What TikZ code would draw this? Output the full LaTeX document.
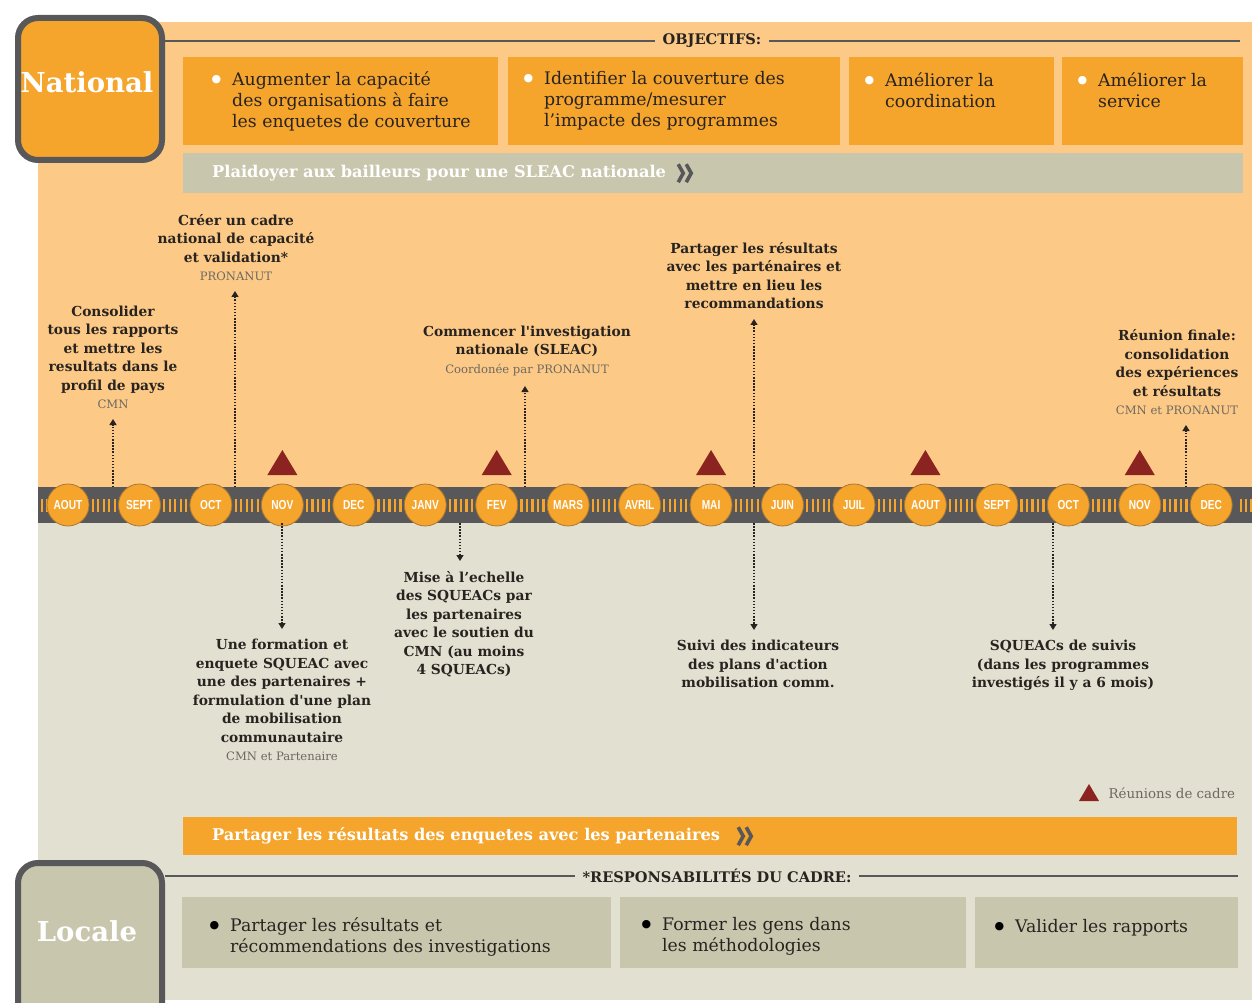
\documentclass[tikz,border=0pt]{standalone}
\usepackage{fontspec}
\setmainfont{DejaVu Serif}
\newfontfamily\monthfont[FakeStretch=0.78]{Liberation Sans}
\newfontfamily\dotfont{DejaVu Sans}
\usetikzlibrary{arrows.meta,positioning}
\definecolor{paleorange}{RGB}{252,202,134}
\definecolor{deeporange}{RGB}{245,164,44}
\definecolor{bargray}{RGB}{88,88,90}
\definecolor{palebeige}{RGB}{226,224,208}
\definecolor{khaki}{RGB}{201,198,174}
\definecolor{meetred}{RGB}{139,36,32}
\definecolor{ink}{RGB}{40,35,32}
\definecolor{subgray}{RGB}{110,104,96}
\definecolor{ringbrown}{RGB}{170,120,50}
\tikzset{
  levelbox/.style={draw=bargray,line width=6pt,rounded corners=20pt,minimum width=144pt,anchor=north west},
  leveltext/.style={text=white,font=\bfseries\fontsize{27.5}{30}\selectfont},
  goalbox/.style={fill=deeporange,anchor=north west,inner sep=0pt,minimum height=88pt},
  dutybox/.style={fill=khaki,anchor=north west,inner sep=0pt,minimum height=71pt},
  boxtext/.style={anchor=north west,align=left,inner sep=0pt,text=ink,font=\fontsize{17.3}{21}\selectfont},
  banner/.style={anchor=north west,inner sep=0pt},
  bannertext/.style={anchor=west,inner sep=0pt,text=white,font=\bfseries\fontsize{16.2}{18}\selectfont},
  headline/.style={draw=bargray,line width=2pt},
  headlabel/.style={inner sep=8pt,text=ink,font=\bfseries\fontsize{14.6}{16}\selectfont},
  month/.style={circle,fill=deeporange,draw=ringbrown,line width=0.8pt,minimum size=42pt,inner sep=0pt,
    text=white,font=\monthfont\bfseries\fontsize{13}{13}\selectfont},
  tick/.style={draw=deeporange,line width=2.2pt},
  event/.style={align=center,text=ink,inner sep=3pt,font=\bfseries\fontsize{13.8}{18.5}\selectfont},
  evarrow/.style={draw=ink,line width=1.3pt,dash pattern=on 1.5pt off 1.6pt,
    -{Triangle[width=7pt,length=6pt]},shorten >=7pt},
  chev/.style={draw=bargray,line width=3.6pt},
}
\newcommand{\who}[1]{{\mdseries\color{subgray}\fontsize{11.6}{15}\selectfont #1}}
\newcommand{\wbul}{\makebox[0pt][r]{\raisebox{3pt}{\textcolor{white}{\dotfont\fontsize{11}{11}\selectfont ●}}\hspace{11pt}}}
\newcommand{\kbul}{\makebox[0pt][r]{\raisebox{3pt}{\textcolor{black}{\dotfont\fontsize{11}{11}\selectfont ●}}\hspace{11pt}}}
\newcommand{\sq}{\textquotesingle}
\begin{document}
\begin{tikzpicture}[x=1pt,y=-1pt]
  \useasboundingbox (0,0) rectangle (1254,1003);
  % backgrounds and the time bar
  \fill[paleorange] (38,22) rectangle (1252,487);
  \fill[palebeige] (38,523) rectangle (1252,1000);
  \fill[bargray] (38,487) rectangle (1252,523);

  \node[levelbox,fill=deeporange,minimum height=142pt] (national) at (15,15) {};
  \node[leveltext] (nationaltxt) at (87,82) {National};
  \node[levelbox,fill=khaki,minimum height=160pt] (locale) at (15,860) {};
  \node[leveltext] (localetxt) at (87,931) {Locale};

  % objectives
  \draw[headline] (165,41) -- (1240,41);
  \node[headlabel,fill=paleorange] (objh) at (712,41) {OBJECTIFS:};
  \node[goalbox,minimum width=315pt] (g1) at (183,57) {};
  \node[goalbox,minimum width=332pt] (g2) at (508,57) {};
  \node[goalbox,minimum width=205pt] (g3) at (849,57) {};
  \node[goalbox,minimum width=181pt] (g4) at (1062,57) {};
  \node[boxtext] at ([xshift=49pt,yshift=-14pt]g1.north west) {\wbul Augmenter la capacité\\des organisations à faire\\les enquetes de couverture};
  \node[boxtext] at ([xshift=36pt,yshift=-14pt]g2.north west) {\wbul Identifier la couverture des\\programme/mesurer\\l'impacte des programmes};
  \node[boxtext] at ([xshift=36pt,yshift=-15pt]g3.north west) {\wbul Améliorer la\\coordination};
  \node[boxtext] at ([xshift=36pt,yshift=-15pt]g4.north west) {\wbul Améliorer la\\service};

  \node[banner,fill=khaki,minimum width=1060pt,minimum height=40pt] (plaid) at (183,153) {};
  \node[bannertext] (plaidtxt) at ([xshift=29pt]plaid.west) {Plaidoyer aux bailleurs pour une SLEAC nationale};
  \draw[chev] ([xshift=12pt,yshift=9pt]plaidtxt.east) -- ++(5,9) -- ++(-5,9);
  \draw[chev] ([xshift=20pt,yshift=9pt]plaidtxt.east) -- ++(5,9) -- ++(-5,9);

  % months
  \foreach \i in {1,...,16}
    \foreach \d in {-11,-5.5,0,5.5,11}
      \draw[tick] ({68+71.45*(\i-1)+35.7+\d},499) -- ++(0,13);
  \foreach \x in {42,47,1241,1246,1251}
    \draw[tick] (\x,499) -- ++(0,13);
  \foreach \m [count=\i] in {AOUT,SEPT,OCT,NOV,DEC,JANV,FEV,MARS,AVRIL,MAI,JUIN,JUIL,AOUT,SEPT,OCT,NOV,DEC}
    \node[month] (m\i) at ({68+71.45*(\i-1)},505) {\m};
  \foreach \i in {4,7,10,13,16}
    \fill[meetred] ([xshift=-15pt,yshift=30pt]m\i.center) -- ++(15,-25) -- ++(15,25) -- cycle;

  % events above the bar
  \coordinate (up1) at (113,487);
  \coordinate (up2) at (235,487);
  \coordinate (up3) at (525,487);
  \coordinate (up4) at (754,487);
  \coordinate (up5) at (1186,487);
  \node[event,anchor=south] (consol) at (113,412) {Consolider\\tous les rapports\\et mettre les\\resultats dans le\\profil de pays\\\who{CMN}};
  \node[event,anchor=south] (cadre) at (236,284) {Créer un cadre\\national de capacité\\et validation*\\\who{PRONANUT}};
  \node[event,anchor=south] (sleac) at (527,379) {Commencer l\sq investigation\\nationale (SLEAC)\\\who{Coordonée par PRONANUT}};
  \node[event,anchor=south] (share) at (754,312) {Partager les résultats\\avec les parténaires et\\mettre en lieu les\\recommandations};
  \node[event,anchor=south] (finale) at (1177,418) {Réunion finale:\\consolidation\\des expériences\\et résultats\\\who{CMN et PRONANUT}};
  \draw[evarrow] (up1) -- (consol);
  \draw[evarrow] (up2) -- (up2 |- cadre.south);
  \draw[evarrow] (up3) -- (up3 |- sleac.south);
  \draw[evarrow] (up4) -- (share);
  \draw[evarrow] (up5) -- (up5 |- finale.south);

  % events below the bar
  \coordinate (dn1) at (282,523);
  \coordinate (dn2) at (460,523);
  \coordinate (dn3) at (754,523);
  \coordinate (dn4) at (1053,523);
  \node[event,anchor=north] (formation) at (282,636) {Une formation et\\enquete SQUEAC avec\\une des partenaires +\\formulation d\sq une plan\\de mobilisation\\communautaire\\\who{CMN et Partenaire}};
  \node[event,anchor=north] (echelle) at (464,568) {Mise à l'echelle\\des SQUEACs par\\les partenaires\\avec le soutien du\\CMN (au moins\\4 SQUEACs)};
  \node[event,anchor=north] (suivi) at (758,637) {Suivi des indicateurs\\des plans d\sq action\\mobilisation comm.};
  \node[event,anchor=north] (suivis) at (1063,637) {SQUEACs de suivis\\(dans les programmes\\investigés il y a 6 mois)};
  \draw[evarrow] (dn1) -- (formation);
  \draw[evarrow] (dn2) -- (dn2 |- echelle.north);
  \draw[evarrow] (dn3) -- (dn3 |- suivi.north);
  \draw[evarrow] (dn4) -- (dn4 |- suivis.north);

  % legend
  \fill[meetred] (1079,801) -- (1089,784) -- (1099,801) -- cycle;
  \node[anchor=west,text=subgray,font=\fontsize{13.4}{15}\selectfont] (legend) at (1105,793) {Réunions de cadre};

  \node[banner,fill=deeporange,minimum width=1054pt,minimum height=38pt] (partage) at (183,817) {};
  \node[bannertext] (partagetxt) at ([xshift=29pt]partage.west) {Partager les résultats des enquetes avec les partenaires};
  \draw[chev] ([xshift=18pt,yshift=9pt]partagetxt.east) -- ++(5,9) -- ++(-5,9);
  \draw[chev] ([xshift=26pt,yshift=9pt]partagetxt.east) -- ++(5,9) -- ++(-5,9);

  % responsibilities
  \draw[headline] (165,876) -- (1238,876);
  \node[headlabel,fill=palebeige] (resph) at (717,876) {*RESPONSABILITÉS DU CADRE:};
  \node[dutybox,minimum width=429pt] (d1) at (182,897) {};
  \node[dutybox,minimum width=346pt] (d2) at (620,897) {};
  \node[dutybox,minimum width=263pt] (d3) at (975,897) {};
  \node[boxtext] at ([xshift=48pt,yshift=-20pt]d1.north west) {\kbul Partager les résultats et\\récommendations des investigations};
  \node[boxtext] at ([xshift=42pt,yshift=-20pt]d2.north west) {\kbul Former les gens dans\\les méthodologies};
  \node[boxtext] at ([xshift=40pt,yshift=-22pt]d3.north west) {\kbul Valider les rapports};
\end{tikzpicture}
\end{document}
